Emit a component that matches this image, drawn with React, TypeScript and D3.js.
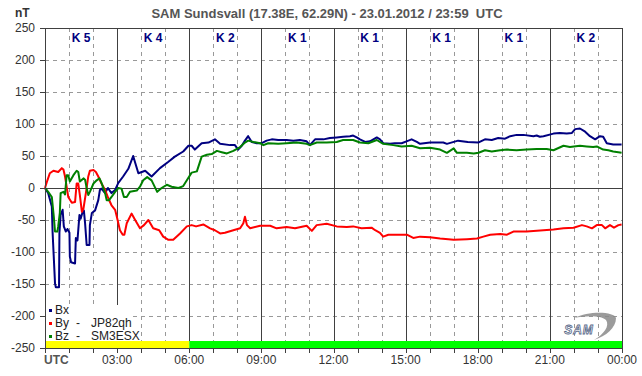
import React from "react";
import * as d3 from "d3";

const W = 642;
const H = 376;

const title = "SAM Sundsvall (17.38E, 62.29N) - 23.01.2012 / 23:59\u00a0\u00a0UTC";
const yTicks = [250, 200, 150, 100, 50, 0, -50, -100, -150, -200, -250];
const xTickLabels = ["UTC", "03:00", "06:00", "09:00", "12:00", "15:00", "18:00", "21:00", "00:00"];
const kLabels = ["K 5", "K 4", "K 2", "K 1", "K 1", "K 1", "K 1", "K 2"];
// activity bar: [startHour, endHour, colour]
const barStarts = [0, 6];
const barEnds = [6, 24];
const barColors = ["#ffff00", "#00ff00"];

const bxMinutes = [0, 8, 17, 19, 25, 27, 35, 36, 39, 44, 47, 52, 56, 61, 62, 65, 75, 76, 77, 81, 86, 89, 94, 97, 100, 104, 111, 112, 117, 125, 133, 137, 141, 150, 157, 166, 175, 183, 195, 208, 220, 233, 250, 266, 287, 308, 324, 345, 358, 366, 374, 391, 408, 424, 437, 462, 474, 482, 491, 499, 507, 516, 528, 541, 553, 566, 582, 603, 620, 636, 653, 661, 674, 695, 711, 728, 744, 761, 769, 778, 786, 799, 811, 828, 836, 844, 861, 873, 890, 907, 915, 928, 936, 961, 994, 1003, 1031, 1055, 1081, 1098, 1115, 1131, 1148, 1161, 1177, 1194, 1219, 1227, 1235, 1244, 1269, 1285, 1302, 1315, 1323, 1335, 1348, 1360, 1373, 1385, 1393, 1402, 1418, 1439];
const bxValues = [0, -8, -29, -70, -149, -155, -155, -70, -42, -34, -60, -68, -64, -70, -107, -116, -118, -97, -78, -82, -42, -48, -37, -35, -55, -89, -89, -58, -39, -35, -19, -3, -1, -8, 0, -8, -3, 8, 18, 30, 50, 23, 27, 18, 31, 41, 49, 57, 66, 66, 60, 70, 71, 76, 69, 67, 67, 60, 66, 74, 81, 72, 70, 70, 74, 76, 75, 75, 74, 75, 73, 67, 76, 76, 78, 79, 80, 81, 82, 79, 76, 72, 73, 79, 76, 70, 69, 70, 70, 74, 76, 72, 69, 71, 71, 69, 74, 72, 71, 76, 75, 78, 77, 81, 83, 83, 81, 82, 80, 81, 85, 86, 85, 86, 92, 93, 88, 81, 76, 81, 80, 70, 68, 68];

const byMinutes = [0, 6, 12, 21, 33, 42, 46, 50, 58, 67, 75, 79, 83, 87, 92, 96, 102, 108, 112, 121, 127, 133, 141, 150, 158, 166, 175, 180, 187, 194, 198, 204, 216, 225, 237, 247, 258, 270, 285, 295, 308, 320, 337, 354, 366, 377, 395, 412, 424, 437, 449, 470, 487, 495, 499, 504, 512, 537, 562, 578, 603, 624, 653, 666, 678, 703, 728, 753, 769, 790, 815, 824, 836, 844, 857, 878, 903, 919, 936, 961, 986, 1020, 1053, 1078, 1094, 1111, 1136, 1153, 1169, 1202, 1219, 1244, 1269, 1294, 1319, 1340, 1352, 1365, 1377, 1390, 1398, 1410, 1420, 1431, 1439];
const byValues = [0, 12, 23, 27, 25, 31, 29, 18, -14, -23, -22, 7, 7, -11, -37, -32, -8, 18, 27, 28, 25, 18, 7, -3, -16, -27, -34, -47, -66, -73, -73, -55, -40, -50, -63, -58, -50, -63, -66, -76, -81, -81, -71, -60, -58, -60, -57, -63, -66, -71, -70, -66, -63, -55, -45, -58, -63, -59, -59, -63, -61, -63, -59, -67, -58, -56, -60, -61, -60, -63, -62, -66, -70, -76, -73, -73, -73, -78, -76, -77, -79, -81, -80, -79, -76, -73, -72, -73, -68, -68, -67, -66, -65, -63, -62, -58, -60, -63, -58, -58, -63, -58, -62, -58, -57];

const bzMinutes = [0, 8, 17, 22, 25, 31, 33, 37, 39, 46, 50, 54, 58, 62, 71, 79, 83, 87, 96, 100, 104, 108, 112, 121, 129, 136, 141, 150, 154, 160, 166, 175, 183, 191, 197, 204, 212, 229, 237, 245, 255, 266, 280, 291, 304, 316, 333, 345, 354, 366, 379, 391, 404, 416, 429, 441, 454, 470, 487, 499, 507, 520, 537, 545, 557, 582, 603, 628, 653, 661, 678, 703, 728, 744, 769, 786, 807, 828, 844, 869, 890, 915, 936, 961, 986, 1003, 1020, 1028, 1053, 1070, 1082, 1098, 1115, 1136, 1153, 1177, 1202, 1227, 1252, 1269, 1294, 1310, 1335, 1352, 1368, 1377, 1393, 1406, 1418, 1439];
const bzValues = [0, -6, -14, -45, -68, -68, -60, -39, -8, -6, -10, 20, 20, 10, 20, 27, 25, 10, 15, 13, 0, -11, -6, 7, 12, 15, 8, -8, -19, -19, -14, -6, 0, -1, -14, -14, -6, -4, 2, 12, 17, 12, -6, 0, 5, 2, 0, 3, 12, 24, 26, 49, 52, 53, 58, 56, 54, 58, 64, 71, 74, 72, 70, 67, 70, 69, 70, 71, 69, 67, 71, 71, 72, 75, 75, 71, 70, 75, 69, 67, 65, 66, 62, 63, 60, 55, 62, 55, 55, 54, 55, 59, 57, 59, 60, 59, 60, 61, 61, 59, 66, 64, 66, 65, 64, 65, 60, 59, 57, 55];

const seriesNames = ["Bx", "By", "Bz"];
const seriesColors = ["#000080", "#ff0000", "#008000"];
const legendSuffix = ["", "JP82qh", "SM3ESX"];

const FONT = "'Liberation Sans', Arial, sans-serif";

export default function App() {
  const left = 45, right = 622, top = 28, bottom = 348;
  const x = d3.scaleLinear().domain([0, 1440]).range([left, right]);
  const y = d3.scaleLinear().domain([-250, 250]).range([bottom, top]);
  const barTop = 341;

  const line = d3
    .line<[number, number]>()
    .x((d) => x(d[0]))
    .y((d) => y(d[1]));

  const series = [
    bxMinutes.map((m, i) => [m, bxValues[i]] as [number, number]),
    byMinutes.map((m, i) => [m, byValues[i]] as [number, number]),
    bzMinutes.map((m, i) => [m, bzValues[i]] as [number, number]),
  ];

  const hours = d3.range(0, 25);
  const gridGray = "#999999";
  const darkLine = "#404040";

  return (
    <svg
      width={W}
      height={H}
      style={{ position: "absolute", left: 0, top: 0, background: "#fff" }}
      fontFamily={FONT}
    >
      <rect x={0} y={0} width={W} height={H} fill="#fff" />
      {/* horizontal dashed grid */}
      {yTicks
        .filter((v) => v !== 0 && v !== 250 && v !== -250)
        .map((v) => (
          <line
            key={"hg" + v}
            x1={left}
            x2={right}
            y1={y(v) + 0.5}
            y2={y(v) + 0.5}
            stroke={gridGray}
            strokeDasharray="4,4"
          />
        ))}
      {/* vertical grid */}
      {hours
        .filter((h) => h > 0 && h < 24)
        .map((h) => (
          <line
            key={"vg" + h}
            x1={Math.round(x(h * 60)) + 0.5}
            x2={Math.round(x(h * 60)) + 0.5}
            y1={top}
            y2={barTop}
            stroke={h % 3 === 0 ? darkLine : gridGray}
            strokeDasharray={h % 3 === 0 ? undefined : "4,4"}
          />
        ))}
      {/* zero line */}
      <line x1={left} x2={right} y1={y(0) + 0.5} y2={y(0) + 0.5} stroke={darkLine} />
      {/* activity bar */}
      {barStarts.map((s, i) => (
        <rect
          key={"bar" + i}
          x={x(s * 60)}
          y={barTop}
          width={x(barEnds[i] * 60) - x(s * 60)}
          height={bottom - barTop}
          fill={barColors[i]}
        />
      ))}
      {/* legend box */}
      <rect x={left + 1} y={305} width={85} height={barTop - 305} fill="#fff" />
      {seriesNames.map((n, i) => (
        <g key={"lg" + n}>
          <rect x={49} y={309 + i * 13} width={3} height={3} fill={seriesColors[i]} />
          <text x={55} y={314 + i * 13} fontSize={12} fill="#222">
            {n}
          </text>
          {legendSuffix[i] && (
            <>
              <text x={76} y={314 + i * 13} fontSize={12} fill="#222">
                -
              </text>
              <text x={91} y={314 + i * 13} fontSize={12} fill="#222">
                {legendSuffix[i]}
              </text>
            </>
          )}
        </g>
      ))}
      {/* data */}
      {series.map((s, i) => (
        <path
          key={"s" + i}
          d={line(s) || ""}
          fill="none"
          stroke={seriesColors[i]}
          strokeWidth={2}
          strokeLinejoin="round"
        />
      ))}
      {/* frame */}
      <line x1={left - 2} x2={right} y1={top + 0.5} y2={top + 0.5} stroke={darkLine} />
      <line x1={right + 0.5} x2={right + 0.5} y1={top} y2={bottom} stroke={darkLine} />
      <line x1={left + 0.5} x2={left + 0.5} y1={top} y2={bottom + 5} stroke={darkLine} />
      <line x1={left} x2={right + 1} y1={bottom + 0.5} y2={bottom + 0.5} stroke={darkLine} />
      {/* y ticks */}
      {yTicks.map((v) => (
        <g key={"yt" + v}>
          <line x1={40} x2={left} y1={y(v) + 0.5} y2={y(v) + 0.5} stroke={darkLine} />
          <text x={35} y={y(v) + 4} fontSize={12} textAnchor="end" fill="#333">
            {v}
          </text>
        </g>
      ))}
      {/* x ticks */}
      {hours.map((h) => (
        <line
          key={"xt" + h}
          x1={Math.round(x(h * 60)) + 0.5}
          x2={Math.round(x(h * 60)) + 0.5}
          y1={bottom}
          y2={bottom + 5}
          stroke={darkLine}
        />
      ))}
      {xTickLabels.map((t, i) =>
        i === 0 ? (
          <text key={"xl" + i} x={44} y={364} fontSize={12} fontWeight="bold" fill="#555">
            {t}
          </text>
        ) : (
          <text key={"xl" + i} x={x(i * 180)} y={364} fontSize={12} textAnchor="middle" fill="#333">
            {t}
          </text>
        )
      )}
      {/* K indices */}
      {kLabels.map((k, i) => (
        <text
          key={"k" + i}
          x={x(i * 180 + 90)}
          y={42}
          fontSize={12}
          fontWeight="bold"
          textAnchor="middle"
          fill="#000080"
        >
          {k}
        </text>
      ))}
      {/* title */}
      <text x={327} y={18} fontSize={13} fontWeight="bold" textAnchor="middle" fill="#555">
        {title}
      </text>
      <text x={15} y={17} fontSize={12} fontWeight="bold" fill="#333">
        nT
      </text>
      {/* SAM logo */}
      <g>
        <path
          d="M574,318 C590,310 615,312 616,318 C616,328 606,336 594,340 C604,334 610,326 606,320 C600,315 585,316 574,318 Z"
          fill="#8a8a8a"
          opacity={0.85}
        />
        <text
          x={579}
          y={334}
          fontSize={12}
          fontStyle="italic"
          fontWeight="bold"
          textAnchor="middle"
          fill="#fff"
          stroke="#5a6a8a"
          strokeWidth={0.8}
          letterSpacing={1}
        >
          SAM
        </text>
      </g>
    </svg>
  );
}
